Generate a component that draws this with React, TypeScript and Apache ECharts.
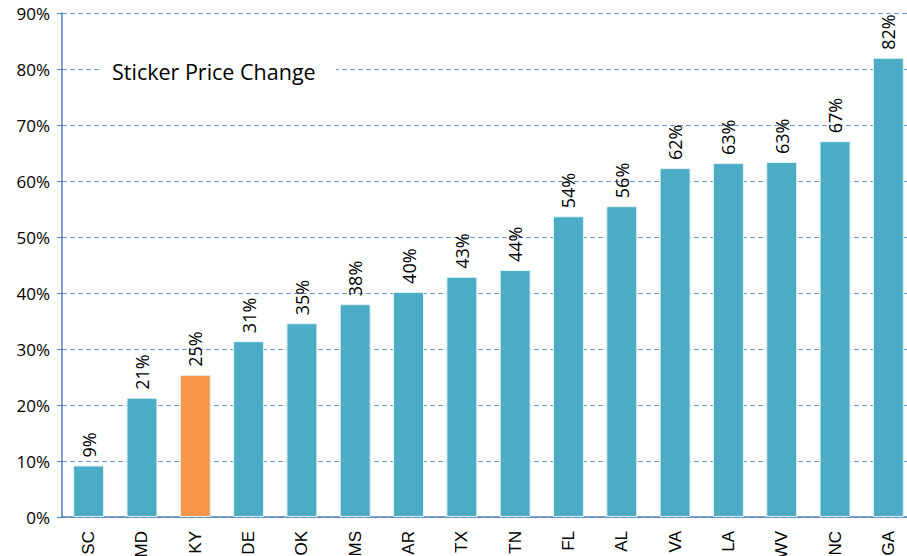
import React, { useEffect, useRef } from "react";
import * as echarts from "echarts";

const categories = ["SC", "MD", "KY", "DE", "OK", "MS", "AR", "TX", "TN", "FL", "AL", "VA", "LA", "WV", "NC", "GA"];
const values = [9.2, 21.3, 25.4, 31.4, 34.6, 38.0, 40.2, 42.9, 44.1, 53.7, 55.5, 62.3, 63.2, 63.4, 67.1, 82.0];
const highlight = "KY";
const title = "Sticker Price Change";

export default function App() {
  const ref = useRef<HTMLDivElement>(null);
  useEffect(() => {
    const chart = echarts.init(ref.current!, null, { renderer: "svg" });
    chart.setOption({
      animation: false,
      backgroundColor: "#ffffff",
      grid: { left: 62, right: -8, top: 13, bottom: 39, containLabel: false, outerBoundsMode: "none" },
      xAxis: {
        type: "category",
        data: categories,
        axisLine: { lineStyle: { color: "#4F81BD", width: 1.5 } },
        axisTick: { show: false },
        axisLabel: {
          rotate: 90,
          margin: 14,
          fontFamily: "Liberation Sans",
          fontSize: 17,
          color: "#000",
        },
      },
      yAxis: {
        type: "value",
        min: 0,
        max: 90,
        interval: 10,
        axisLine: { show: true, lineStyle: { color: "#4F81BD", width: 1.5 } },
        axisTick: { show: true, length: 5, lineStyle: { color: "#4F81BD" } },
        axisLabel: {
          formatter: "{value}%",
          margin: 12,
          fontFamily: "Open Sans",
          fontSize: 17,
          color: "#000",
        },
        splitLine: { lineStyle: { color: "#6F97D0", type: [5, 3], width: 1 } },
      },
      series: [
        {
          type: "bar",
          data: values.map((v, i) => ({
            value: v,
            itemStyle: { color: categories[i] === highlight ? "#F79646" : "#4BACC6" },
          })),
          barWidth: "58%",
          itemStyle: { borderColor: "#E4F2F7", borderWidth: 1 },
          label: {
            show: true,
            position: "top",
            rotate: 90,
            align: "left",
            verticalAlign: "middle",
            distance: 8,
            formatter: (p: any) => Math.round(p.value) + "%",
            fontFamily: "Open Sans",
            fontSize: 18,
            color: "#000",
          },
        },
      ],
      graphic: [
        {
          type: "rect",
          z: 100,
          shape: { x: 100, y: 58, width: 236, height: 26 },
          style: { fill: "#ffffff" },
        },
        {
          type: "text",
          z: 101,
          x: 112,
          y: 71,
          style: {
            text: title,
            fontFamily: "Open Sans",
            fontSize: 21.5,
            fill: "#000",
            verticalAlign: "middle",
          },
        },
      ],
    });
    return () => chart.dispose();
  }, []);
  return (
    <div
      ref={ref}
      style={{ position: "fixed", left: 0, top: 0, width: 907, height: 556 }}
    />
  );
}
